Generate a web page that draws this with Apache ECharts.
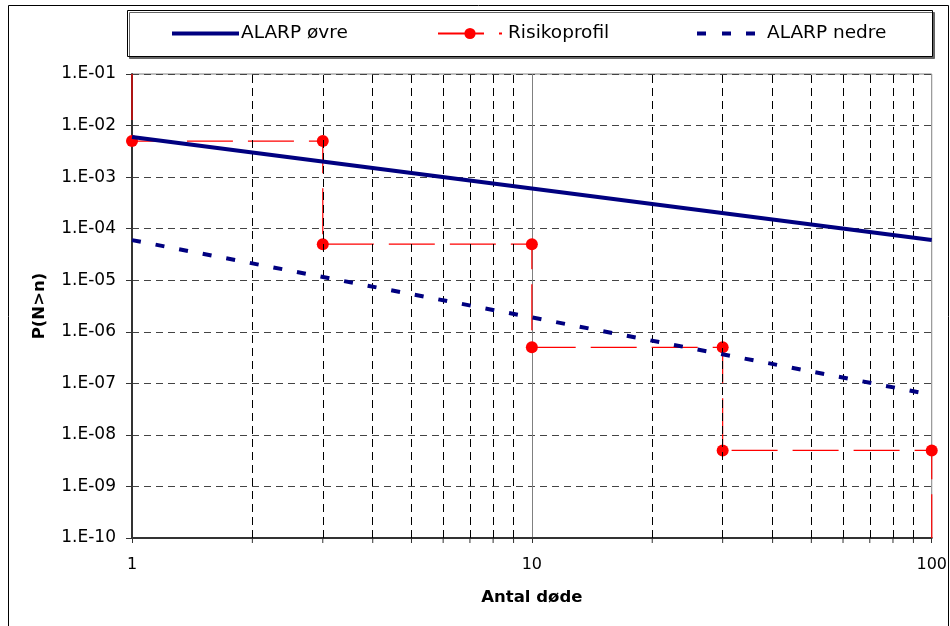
<!DOCTYPE html>
<html>
<head>
<meta charset="utf-8">
<script src="https://cdn.jsdelivr.net/npm/echarts@6/dist/echarts.min.js"></script>
<style>html,body{margin:0;padding:0;background:#fff;}#c{width:950px;height:626px;}</style>
</head>
<body>
<div id="c"></div>
<script>
const seriesNames = ['ALARP øvre', 'Risikoprofil', 'ALARP nedre'];
const xTickLabels = ['1', '10', '100'];
const yTickLabels = ['1.E-10','1.E-09','1.E-08','1.E-07','1.E-06','1.E-05','1.E-04','1.E-03','1.E-02','1.E-01'];
const xMinor = [2,3,4,5,6,7,8,9,20,30,40,50,60,70,80,90];
const upperX = [1, 100];
const upperY = [6e-3, 6e-5];
const lowerX = [1, 100];
const lowerY = [6e-5, 6e-8];
const riskX = [1, 1, 3, 3, 10, 10, 30, 30, 100, 100];
const riskY = [1e-1, 5e-3, 5e-3, 5e-5, 5e-5, 5e-7, 5e-7, 5e-9, 5e-9, 1e-10];
const riskMarked = [false, true, true, true, true, true, true, true, true, false];

const FONT = 'DejaVu Sans';
const chart = echarts.init(document.getElementById('c'), null, {renderer: 'canvas'});

const legendText = {fontFamily: FONT, fontSize: 18.5, color: '#000'};
const legendBase = {orient: 'horizontal', itemGap: 0, selectedMode: false, padding: 0, top: 24};

const option = {
  animation: false,
  backgroundColor: '#fff',
  graphic: [
    {type: 'rect', shape: {x: 8.5, y: 5.5, width: 940, height: 640}, style: {fill: 'none', stroke: '#000', lineWidth: 1}, z: 0, silent: true},
    {type: 'rect', shape: {x: 127.5, y: 10.5, width: 805, height: 46}, style: {fill: '#fff', stroke: '#000', lineWidth: 1, shadowColor: '#666', shadowOffsetX: 2, shadowOffsetY: 2, shadowBlur: 0}, z: 1, silent: true}
  ],
  legend: [
    Object.assign({}, legendBase, {left: 172, itemWidth: 67, itemHeight: 4,
      textStyle: Object.assign({}, legendText, {padding: [0, 0, 0, -3]}),
      data: [{name: seriesNames[0], icon: 'rect'}]}),
    Object.assign({}, legendBase, {left: 437, itemWidth: 64, itemHeight: 14,
      textStyle: Object.assign({}, legendText, {padding: [0, 0, 0, 1]}),
      data: [seriesNames[1]]}),
    Object.assign({}, legendBase, {left: 697, itemWidth: 58, itemHeight: 4,
      textStyle: Object.assign({}, legendText, {padding: [0, 0, 0, 7]}),
      data: [{name: seriesNames[2], icon: 'path://M0,0h9v4h-9z M25,0h9v4h-9z M49,0h9v4h-9z'}]})
  ],
  grid: {left: 132, right: 17, top: 74, bottom: 88, show: true, borderColor: '#808080', borderWidth: 1, containLabel: false},
  xAxis: {
    type: 'log', logBase: 10, min: 1, max: 100, interval: 1,
    name: 'Antal døde', nameLocation: 'middle', nameGap: 51,
    nameTextStyle: {fontFamily: FONT, fontSize: 16.5, fontWeight: 'bold', color: '#000'},
    axisLine: {show: true, lineStyle: {color: '#333', width: 2}},
    axisTick: {show: true, length: 5, lineStyle: {color: '#333'}},
    axisLabel: {fontFamily: FONT, fontSize: 16, color: '#000', margin: 19,
      formatter: function (v) { const i = Math.round(Math.log10(v)); return xTickLabels[i] || ''; }},
    splitLine: {show: true, showMinLine: false, showMaxLine: false, lineStyle: {color: '#808080', width: 1, type: 'solid'}}
  },
  yAxis: {
    type: 'log', logBase: 10, min: 1e-10, max: 1e-1, interval: 1,
    name: 'P(N>n)', nameLocation: 'middle', nameGap: 84, nameRotate: 90,
    nameTextStyle: {fontFamily: FONT, fontSize: 16.5, fontWeight: 'bold', color: '#000'},
    axisLine: {show: true, lineStyle: {color: '#333', width: 2}},
    axisTick: {show: true, length: 6, lineStyle: {color: '#333'}},
    axisLabel: {fontFamily: FONT, fontSize: 17, color: '#000', margin: 16,
      formatter: function (v) { const i = Math.round(Math.log10(v)) + 10; return yTickLabels[i] || ''; }},
    splitLine: {show: true, showMinLine: false, showMaxLine: false, lineStyle: {color: '#444', width: 1, type: [7, 5]}}
  },
  series: [
    {
      name: seriesNames[0], type: 'line', symbol: 'none', z: 5,
      lineStyle: {color: '#000080', width: 4}, itemStyle: {color: '#000080'},
      data: upperX.map((x, i) => [x, upperY[i]]),
      markLine: {
        silent: true, symbol: 'none', label: {show: false}, animation: false,
        lineStyle: {color: '#000', width: 1, type: [8, 5]},
        emphasis: {disabled: true},
        data: xMinor.map(v => ({xAxis: v}))
      }
    },
    {
      name: seriesNames[1], type: 'line', symbol: 'circle', symbolSize: 12, z: 4,
      lineStyle: {color: '#ff0000', width: 1.2, type: [46, 15]},
      itemStyle: {color: '#ff0000'},
      data: riskX.map((x, i) => riskMarked[i] ? [x, riskY[i]] : {value: [x, riskY[i]], symbol: 'none'})
    },
    {
      name: seriesNames[2], type: 'line', symbol: 'none', z: 5,
      lineStyle: {color: '#000080', width: 4, type: [9, 15]}, itemStyle: {color: '#000080'},
      data: lowerX.map((x, i) => [x, lowerY[i]])
    },
    {
      type: 'custom', silent: true, clip: false, z: 3,
      data: xMinor.map(v => [v, 1e-10]),
      renderItem: function (params, api) {
        const p = api.coord([api.value(0), api.value(1)]);
        return {type: 'line', shape: {x1: p[0], y1: p[1], x2: p[0], y2: p[1] + 5}, style: {stroke: '#333', lineWidth: 1}};
      }
    }
  ]
};
chart.setOption(option);
</script>
</body>
</html>
